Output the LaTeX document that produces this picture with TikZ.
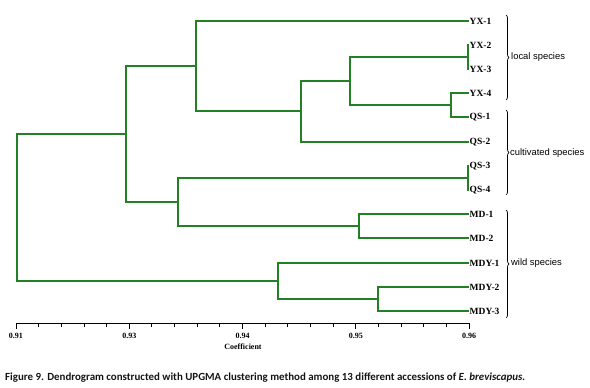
\documentclass[tikz,border=0pt]{standalone}
\usepackage{fontspec}
\setmainfont{Liberation Serif}
\newfontfamily\arialf{Liberation Sans}
\newfontfamily\capf{Carlito}
\usetikzlibrary{decorations.pathreplacing}
\definecolor{treegreen}{RGB}{36,128,36}
\begin{document}
\begin{tikzpicture}[x=1pt,y=-1pt,
  branch/.style={draw=treegreen,line width=2pt,line cap=rect},
  leaf/.style={anchor=west,inner xsep=1.5pt,inner ysep=0pt,font=\fontsize{9.5}{10}\selectfont\bfseries},
  grp/.style={anchor=west,inner sep=0pt,font=\arialf\fontsize{9.4}{10}\selectfont},
  bracelabel/.style={decorate,decoration={brace,amplitude=3pt},draw=black,line width=0.7pt},
  tick/.style={draw=black,line width=0.9pt},
  axislabel/.style={font=\fontsize{8}{9}\selectfont\bfseries,inner sep=0pt}]
\useasboundingbox (0,0) rectangle (590,388);
% leaves
\foreach \n/\t/\yy in {yx1/YX-1/21,yx2/YX-2/45,yx3/YX-3/69,yx4/YX-4/93,qs1/QS-1/117,qs2/QS-2/142,qs3/QS-3/166,qs4/QS-4/190,md1/MD-1/214,md2/MD-2/238,mdy1/MDY-1/263,mdy2/MDY-2/287,mdy3/MDY-3/311}
  \node[leaf] (\n) at (468,\yy) {\t};
% internal nodes
\coordinate (n23) at (468,57);
\coordinate (n4q) at (451,105);
\coordinate (nA) at (350,81);
\coordinate (nB) at (301,111);
\coordinate (nC) at (196,66);
\coordinate (n34) at (468,178);
\coordinate (nmd) at (359,226);
\coordinate (nD) at (178,202);
\coordinate (nE) at (126,134);
\coordinate (nmdy) at (378,299);
\coordinate (nF) at (278,281);
\coordinate (root) at (17,207);
% branches
\draw[branch] (yx2.west) -| (n23) |- (yx3.west);
\draw[branch] (yx4.west) -| (n4q) |- (qs1.west);
\draw[branch] (n23) -| (nA) |- (n4q);
\draw[branch] (nA) -| (nB) |- (qs2.west);
\draw[branch] (yx1.west) -| (nC) |- (nB);
\draw[branch] (qs3.west) -| (n34) |- (qs4.west);
\draw[branch] (md1.west) -| (nmd) |- (md2.west);
\draw[branch] (n34) -| (nD) |- (nmd);
\draw[branch] (nC) -| (nE) |- (nD);
\draw[branch] (mdy2.west) -| (nmdy) |- (mdy3.west);
\draw[branch] (mdy1.west) -| (nF) |- (nmdy);
\draw[branch] (nE) -| (root) |- (nF);
% braces
\coordinate (b1t) at (506,15); \coordinate (b1b) at (506,100);
\coordinate (b2t) at (506,110); \coordinate (b2b) at (506,195);
\coordinate (b3t) at (506,210); \coordinate (b3b) at (506,318);
\draw[bracelabel] (b1t) -- (b1b);
\draw[bracelabel] (b2t) -- (b2b);
\draw[bracelabel] (b3t) -- (b3b);
\node[grp] (g1) at (511,57.5) {local species};
\node[grp] (g2) at (510,153) {cultivated species};
\node[grp] (g3) at (511,263) {wild species};
% axis
\coordinate (ax0) at (16,323);
\coordinate (ax1) at (469,323);
\draw[tick] (ax0) -- (ax1);
\foreach \i in {0,...,20} {
  \pgfmathsetmacro{\xx}{16+22.65*\i}
  \pgfmathtruncatemacro{\m}{mod(\i,5)}
  \ifnum\m=0
    \draw[tick] (\xx,323) -- (\xx,329);
  \else
    \draw[tick] (\xx,323) -- (\xx,326.5);
  \fi
}
\foreach \lab [count=\j from 0] in {0.91,0.93,0.94,0.95,0.96}
  \node[axislabel] (al\j) at ({16+113.25*\j},336) {\lab};
\node[axislabel] (coef) at (243,347) {Coefficient};
% caption
\node[anchor=west,inner sep=0pt,text=black!92,font=\capf\bfseries\fontsize{10.9}{12}\selectfont] (cap) at (5,377.5)
  {Figure 9. Dendrogram constructed with UPGMA clustering method among 13 different accessions of \textit{E. breviscapus.}};
\end{tikzpicture}
\end{document}
